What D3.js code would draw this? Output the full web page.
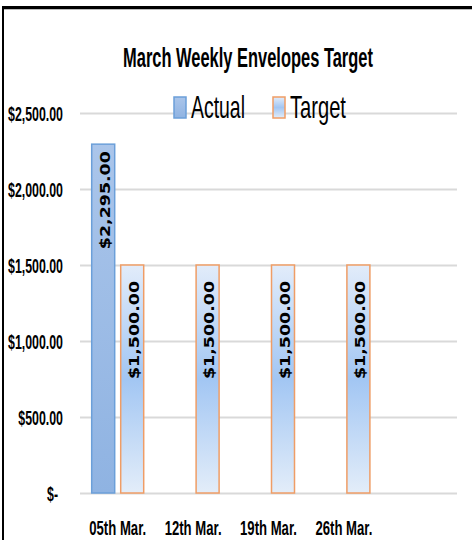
<!DOCTYPE html>
<html>
<head>
<meta charset="utf-8">
<script src="https://cdn.jsdelivr.net/npm/d3@7"></script>
<style>
html,body{margin:0;padding:0;background:#fff;}
svg{display:block;}
</style>
</head>
<body>
<svg id="chart" width="472" height="540"></svg>
<script>
const categories = ["05th Mar.", "12th Mar.", "19th Mar.", "26th Mar.", ""];
const actualValues = [2295, null, null, null, null];
const targetValues = [1500, 1500, 1500, 1500, null];
const seriesNames = ["Actual", "Target"];
const yTicks = [0, 500, 1000, 1500, 2000, 2500];
const yTickLabels = ["$-", "$500.00", "$1,000.00", "$1,500.00", "$2,000.00", "$2,500.00"];
const titleText = "March Weekly Envelopes Target";

const svg = d3.select("#chart");
const W = 472, H = 540;
const plot = {left: 80, right: 457, top: 113, bottom: 493};
const FONT = "'Liberation Sans', Arial, sans-serif";

const defs = svg.append("defs");
const gA = defs.append("linearGradient").attr("id","gA").attr("x1",0).attr("y1",0).attr("x2",0).attr("y2",1);
gA.append("stop").attr("offset","0").attr("stop-color","#aac5ea");
gA.append("stop").attr("offset","1").attr("stop-color","#8fb3e2");
const gT = defs.append("linearGradient").attr("id","gT").attr("x1",0).attr("y1",0).attr("x2",0).attr("y2",1);
gT.append("stop").attr("offset","0").attr("stop-color","#e2ecfa");
gT.append("stop").attr("offset","0.5").attr("stop-color","#a2c6f3");
gT.append("stop").attr("offset","1").attr("stop-color","#e3edf9");

// border
svg.append("line").attr("x1",2).attr("x2",W).attr("y1",7.5).attr("y2",7.5).attr("stroke","#000").attr("stroke-width",3);
svg.append("line").attr("x1",2).attr("x2",W).attr("y1",9.5).attr("y2",9.5).attr("stroke","#bbb").attr("stroke-width",1);
svg.append("line").attr("x1",3).attr("x2",3).attr("y1",6).attr("y2",H).attr("stroke","#000").attr("stroke-width",2);

const x = d3.scaleBand().domain(categories).range([plot.left, plot.right]);
const y = d3.scaleLinear().domain([0, 2500]).range([plot.bottom, plot.top]);

const barW = 23, gap = 6;

// horizontally condense text by a factor, keeping its anchor point
function condense(sel, factor){
  sel.each(function(){
    const t = d3.select(this);
    const tx = +t.attr("x") || 0, ty = +t.attr("y") || 0;
    const prev = t.attr("transform") || "";
    t.attr("x", 0).attr("y", 0)
     .attr("transform", `${prev} translate(${tx},${ty}) scale(${factor},1)`);
  });
}
// condense a selection so that its widest text has the given width
function fitWidest(sel, width){
  let m = 0;
  sel.each(function(){ m = Math.max(m, this.getComputedTextLength()); });
  condense(sel, m > 0 ? width / m : 1);
}

// gridlines + y labels
const yAxis = d3.axisLeft(y).tickValues(yTicks).tickSize(-(plot.right-plot.left)).tickFormat((d,i)=>yTickLabels[i]);
const gy = svg.append("g").attr("transform",`translate(${plot.left},0)`).call(yAxis);
gy.select(".domain").remove();
gy.selectAll(".tick line").attr("stroke","#d9d9d9").attr("stroke-width",2);
gy.selectAll(".tick text").attr("x", d=> d===0 ? -22 : -17).attr("y", 0).attr("dy","0.36em")
  .attr("font-family",FONT).attr("font-weight","bold")
  .attr("font-size",21).attr("fill","#000")
  .call(fitWidest, 55);

// bars
const bars = svg.append("g");
bars.selectAll("rect.a").data(categories.map((c,i)=>({c, v: actualValues[i]})).filter(d=>d.v!=null))
  .join("rect").attr("class","a")
  .attr("x", d=>x(d.c)+x.bandwidth()/2 - gap/2 - barW)
  .attr("y", d=>y(d.v)).attr("width", barW).attr("height", d=>y(0)-y(d.v))
  .attr("fill","url(#gA)").attr("stroke","#6b9fd9").attr("stroke-width",1.5);
bars.selectAll("rect.t").data(categories.map((c,i)=>({c, v: targetValues[i]})).filter(d=>d.v!=null))
  .join("rect").attr("class","t")
  .attr("x", d=>x(d.c)+x.bandwidth()/2 + gap/2)
  .attr("y", d=>y(d.v)).attr("width", barW).attr("height", d=>y(0)-y(d.v))
  .attr("fill","url(#gT)").attr("stroke","#ef9d66").attr("stroke-width",1.5);

// value labels
const fmt = v => "$" + d3.format(",.2f")(v);
function addLabels(vals, dx, off){
  svg.append("g").selectAll("text").data(categories.map((c,i)=>({c, v: vals[i]})).filter(d=>d.v!=null))
    .join("text")
    .attr("transform", d=>`translate(${x(d.c)+x.bandwidth()/2+dx},${y(d.v)+off}) rotate(-90) scale(1,0.92)`)
    .attr("text-anchor","end").attr("dy","0.36em")
    .attr("font-family","'DejaVu Sans', Verdana, sans-serif").attr("font-weight","bold")
    .attr("font-size",16).attr("fill","#000")
    .attr("textLength",98).attr("lengthAdjust","spacingAndGlyphs")
    .text(d=>fmt(d.v));
}
addLabels(actualValues, -gap/2 - barW/2 + 1.5, 7);
addLabels(targetValues, gap/2 + barW/2 + 1.5, 16);

// x labels
svg.append("g").selectAll("text").data(categories).join("text")
  .attr("x", d=>x(d)+x.bandwidth()/2).attr("y", 535)
  .attr("text-anchor","middle")
  .attr("font-family",FONT).attr("font-weight","bold")
  .attr("font-size",21).attr("fill","#000")
  .text(d=>d)
  .call(fitWidest, 57);

// title
svg.append("text").attr("x",248).attr("y",66.5).attr("text-anchor","middle")
  .attr("font-family",FONT).attr("font-weight","bold")
  .attr("font-size",28).attr("fill","#000")
  .text(titleText)
  .call(fitWidest, 250);

// legend
const legend = [
  {name: seriesNames[0], sx: 174, tx: 191, w: 54, fill: "url(#gA)", stroke: "#6b9fd9"},
  {name: seriesNames[1], sx: 273, tx: 290, w: 56, fill: "url(#gT)", stroke: "#ef9d66"}
];
const lg = svg.append("g");
lg.selectAll("rect").data(legend).join("rect")
  .attr("x", d=>d.sx).attr("y", 97).attr("width", 12).attr("height", 21)
  .attr("fill", d=>d.fill).attr("stroke", d=>d.stroke).attr("stroke-width",1.5);
lg.selectAll("text").data(legend).join("text")
  .attr("x", d=>d.tx).attr("y", 118)
  .attr("font-family",FONT)
  .attr("font-size",31).attr("fill","#000")
  .text(d=>d.name)
  .each(function(d){ d3.select(this).call(fitWidest, d.w); });
</script>
</body>
</html>
